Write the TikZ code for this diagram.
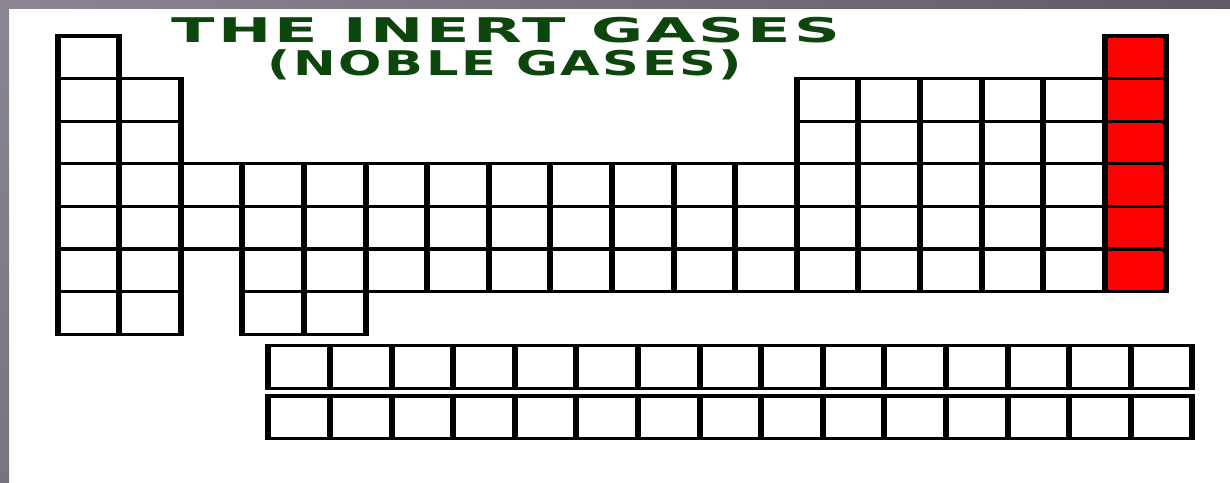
\documentclass[tikz,border=0pt]{standalone}
\usepackage{fontspec}
\usepackage{tikz}
\usetikzlibrary{positioning}
\newfontfamily\gasfont[LetterSpace=5]{DejaVu Sans}
\definecolor{FrameGreyLeft}{RGB}{140, 134, 148}
\definecolor{FrameGreyRight}{RGB}{96, 90, 102}
\definecolor{SideGreyBottom}{RGB}{120, 115, 126}
\definecolor{TitleGreen}{RGB}{12, 70, 12}
\definecolor{NobleRed}{RGB}{255, 0, 0}

% one box of the table: left x, top y, fill colour (pixel units)
\newcommand{\elembox}[3]{%
  \fill[black] ({#1-3},{#2-1.6}) rectangle ++(67.6,45.8);
  \fill[#3] ({#1+3},{#2+1.6}) rectangle ++(55.6,39.4);
}

\begin{document}
\begin{tikzpicture}[x=0.5pt, y=-0.5pt,
    gastitle/.style={font=\gasfont\bfseries\fontsize{17}{17}\selectfont,
      text=TitleGreen, inner sep=0pt, transform shape}]
    % Page and frame
    \fill[white] (0,0) rectangle (1230,482);
    \shade[top color=FrameGreyLeft, bottom color=SideGreyBottom] (0,0) rectangle (9,482);
    \shade[left color=FrameGreyLeft, right color=FrameGreyRight] (0,0) rectangle (1230,8);

    % Title
    \node[gastitle, xscale=1.87] (inert) at (506,30.5) {THE INERT GASES};
    \node[gastitle, xscale=1.5] (noble) at (505,64.5) {(NOBLE GASES)};

    % Main table: row / columns present
    \foreach \r/\cols in {1/{1,18}, 2/{1,2,13,14,...,18}, 3/{1,2,13,14,...,18},
        4/{1,...,18}, 5/{1,...,18}, 6/{1,2,4,5,...,18}, 7/{1,2,4,5}} {
      \foreach \c in \cols {
        \ifnum\c=18 \def\boxfill{NobleRed}\else\def\boxfill{white}\fi
        \pgfmathsetmacro\bx{57.5+(\c-1)*61.6}
        \pgfmathsetmacro\by{36+(\r-1)*42.6}
        \elembox{\bx}{\by}{\boxfill}
      }
    }

    % Lanthanides and actinides
    \foreach \c in {0,...,14} {
      \pgfmathsetmacro\bx{268.3+\c*61.6}
      \elembox{\bx}{345.5}{white}
      \elembox{\bx}{396}{white}
    }
\end{tikzpicture}
\end{document}
